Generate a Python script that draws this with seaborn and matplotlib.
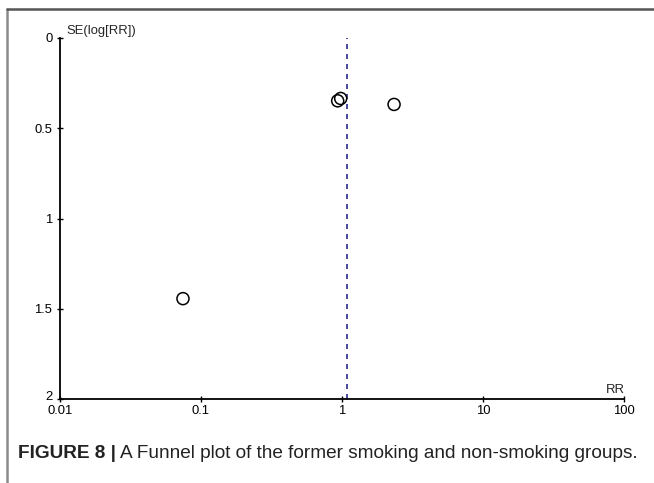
import matplotlib
matplotlib.use("Agg")
import matplotlib.pyplot as plt
import matplotlib.transforms as mtransforms
from matplotlib.lines import Line2D
import seaborn as sns
import pandas as pd

# Data
rr = [0.0745, 0.932, 0.979, 2.34]
se_log_rr = [1.444, 0.348, 0.335, 0.368]
pooled_rr = 1.085
x_ticks = [0.01, 0.1, 1, 10, 100]
x_tick_labels = ["0.01", "0.1", "1", "10", "100"]
y_ticks = [0, 0.5, 1, 1.5, 2]
y_tick_labels = ["0", "0.5", "1", "1.5", "2"]

df = pd.DataFrame({"RR": rr, "SE": se_log_rr})

sns.set_style("ticks")
plt.rcParams["font.family"] = ["Liberation Sans", "DejaVu Sans"]

W, H = 654, 483
fig = plt.figure(figsize=(W / 100, H / 100), dpi=100)
ax = fig.add_axes([60 / W, (H - 399) / H, 564 / W, 361 / H])

sns.scatterplot(data=df, x="RR", y="SE", ax=ax, marker="o", s=75,
                facecolors="none", edgecolor="black", linewidth=1.1, zorder=3)
ax.axvline(pooled_rr, ymin=0, ymax=1, color="#2a2a8c", linestyle=(0, (3, 3)),
           linewidth=1.2, zorder=2)

ax.set_xscale("log")
ax.set_xlim(0.01, 100)
ax.set_ylim(2, 0)
ax.set_xticks(x_ticks)
ax.set_xticklabels(x_tick_labels)
ax.set_yticks(y_ticks)
ax.set_yticklabels(y_tick_labels)
ax.minorticks_off()
ax.set_xlabel("")
ax.set_ylabel("")
for s in ["top", "right"]:
    ax.spines[s].set_visible(False)
for s in ["left", "bottom"]:
    ax.spines[s].set_color("black")
    ax.spines[s].set_linewidth(1.3)
ax.tick_params(axis="both", which="major", bottom=True, left=True,
               direction="inout", length=5, width=1.0,
               colors="black", labelsize=9.4)
ax.tick_params(axis="y", pad=3)
ax.tick_params(axis="x", pad=1.5)
ax.patch.set_alpha(0)

# lift the bottom y label slightly so it sits above the x labels
lbl = ax.get_yticklabels()[-1]
lbl.set_transform(lbl.get_transform() + mtransforms.ScaledTranslation(0, 3 / 100, fig.dpi_scale_trans))

fig.text(66 / W, (H - 31) / H, "SE(log[RR])", fontsize=9.4, va="center", ha="left")
fig.text(615 / W, (H - 390) / H, "RR", fontsize=9.4, va="center", ha="center")

# figure frame
fx, fy = 7 / W, 1 - 9 / H
fig.add_artist(Line2D([fx, fx], [0, fy], transform=fig.transFigure, color="#8a8a8a", lw=1.8))
fig.add_artist(Line2D([fx, 1], [fy, fy], transform=fig.transFigure, color="#555555", lw=1.8))

# caption
cy = (H - 453) / H
t1 = fig.text(18 / W, cy, "FIGURE 8 |", fontsize=13.7, fontweight="bold",
              va="center", ha="left", color="#222222")
fig.canvas.draw()
bb = t1.get_window_extent(renderer=fig.canvas.get_renderer())
x2 = bb.x1 / W + 4 / W
fig.text(x2, cy, "A Funnel plot of the former smoking and non-smoking groups.",
         fontsize=13.7, va="center", ha="left", color="#222222")

fig.savefig("out.png", dpi=100)
